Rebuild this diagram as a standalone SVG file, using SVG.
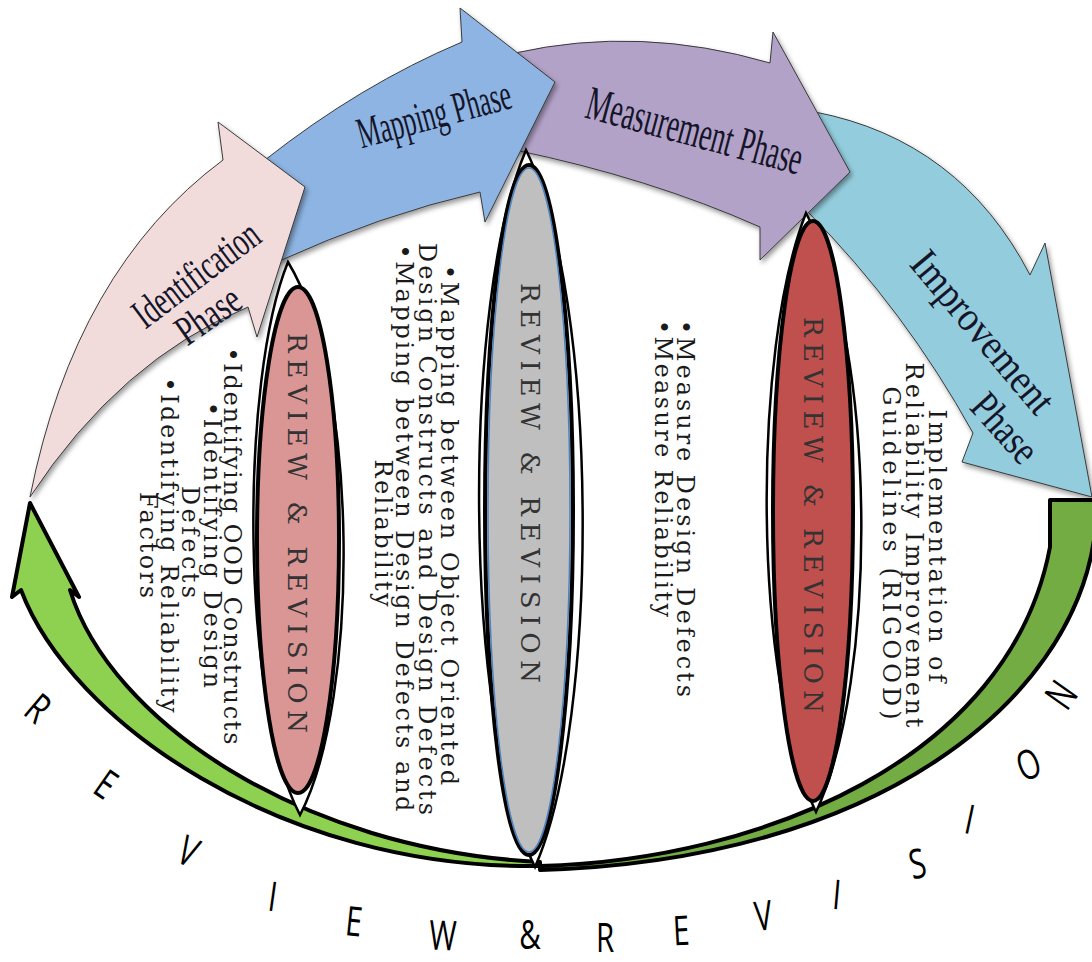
<svg xmlns="http://www.w3.org/2000/svg" width="1092" height="962" viewBox="0 0 1092 962">
<defs>
<filter id="sh" x="-20%" y="-20%" width="140%" height="140%">
<feDropShadow dx="2" dy="3" stdDeviation="2.5" flood-color="#000" flood-opacity="0.4"/>
</filter>
</defs>
<style>
.arrow{stroke:#3a3a3a;stroke-width:1;stroke-linejoin:round;filter:url(#sh)}
.lbl{font-family:"Liberation Serif","Times New Roman",serif;fill:#15152a;text-anchor:middle;dominant-baseline:central}
.body{font-family:"DejaVu Serif","Liberation Serif",serif;font-size:24px;fill:#1a1a1a;text-anchor:middle;dominant-baseline:central}
.bodys{font-family:"DejaVu Serif","Liberation Serif",serif;font-size:24px;fill:#1a1a1a;text-anchor:start;dominant-baseline:central}
.rr{font-family:"DejaVu Serif","Liberation Serif",serif;font-size:26px;fill:#333;text-anchor:middle;dominant-baseline:central}
.lens{fill:#fff;stroke:#000;stroke-width:2.5}
.ell{stroke:#000;stroke-width:4}
.big{font-family:"Open Sans","Liberation Sans",sans-serif;font-size:41px;fill:#000;text-anchor:middle;dominant-baseline:central}
.green{stroke:#000;stroke-width:4;stroke-linejoin:round}
</style>
<rect width="1092" height="962" fill="#fff"/>

<g id="connectors">
  <path id="return-right" class="green" fill="#72AC43" d="M540,866 C760,860 1010,760 1050,547 L1050,500 L1094,500 L1094,540 C1070,700 880,860 540,870 Z"/>
  <path id="return-left" class="green" fill="#8ED04F" d="M540,866 C280,870 70,720 21,590 L12,597 L30,503 L79,597 L70,590 C110,720 300,850 540,862 Z"/>
</g>

<g id="improvement-phase">
  <path class="arrow" fill="#93CDDD" d="M815,112 Q960,140 1030,275 L1045,243 L1092,497 L962,462 L973,433 Q905,310 808,212 Z"/>
  <text class="lbl" font-size="42" textLength="199" lengthAdjust="spacingAndGlyphs" transform="translate(983,332) rotate(50)">Improvement</text>
  <text class="lbl" font-size="42" textLength="79" lengthAdjust="spacingAndGlyphs" transform="translate(1005,428) rotate(48)">Phase</text>
</g>
<g id="measurement-phase">
  <path class="arrow" fill="#B3A2C7" d="M515,53 Q640,25 770,63 L773,32 L850,172 L760,260 L760,227 Q650,178 515,150 Z"/>
  <text class="lbl" font-size="48" textLength="222" lengthAdjust="spacingAndGlyphs" transform="translate(695,130) rotate(15)">Measurement Phase</text>
</g>
<g id="mapping-phase">
  <path class="arrow" fill="#8DB4E2" d="M265,160 Q360,85 462,42 L460,8 L555,82 L485,222 L480,192 Q380,215 277,262 Z"/>
  <text class="lbl" font-size="44" textLength="158" lengthAdjust="spacingAndGlyphs" transform="translate(434,114) rotate(-15)">Mapping Phase</text>
</g>
<g id="identification-phase">
  <path class="arrow" fill="#F2DCDB" d="M30,497 Q75,270 223,160 L218,122 L305,187 L257,337 L248,307 Q120,360 30,497 Z"/>
  <text class="lbl" font-size="42" textLength="148" lengthAdjust="spacingAndGlyphs" transform="translate(196,274) rotate(-37)">Identification</text>
  <text class="lbl" font-size="42" textLength="70" lengthAdjust="spacingAndGlyphs" transform="translate(208,315) rotate(-35)">Phase</text>
</g>

<g id="review-1">
  <path class="lens" d="M288,262 C240,380 240,700 300,815 C360,700 360,380 288,262 Z"/>
  <ellipse class="ell" cx="298" cy="540" rx="41" ry="253" fill="#D99694"/>
  <text class="rr" textLength="400" lengthAdjust="spacing" transform="translate(297,533) rotate(90)">REVIEW &amp; REVISION</text>
</g>
<g id="review-2">
  <path class="lens" d="M526,150 C462,300 462,720 535,867 C600,720 600,300 526,150 Z"/>
  <ellipse class="ell" cx="529" cy="510" rx="44" ry="345" fill="#BFBFBF"/>
  <ellipse cx="529" cy="510" rx="41" ry="342" fill="none" stroke="#4F81BD" stroke-width="1.5"/>
  <text class="rr" textLength="400" lengthAdjust="spacing" transform="translate(530,483) rotate(90)">REVIEW &amp; REVISION</text>
</g>
<g id="review-3">
  <path class="lens" d="M806,213 C752,350 752,680 816,812 C878,680 878,350 806,213 Z"/>
  <ellipse class="ell" cx="813" cy="511" rx="40" ry="290" fill="#C0504D"/>
  <text class="rr" textLength="396" lengthAdjust="spacing" transform="translate(813,515) rotate(90)">REVIEW &amp; REVISION</text>
</g>

<g id="identification-tasks">
  <text class="body" textLength="397" transform="translate(232,546) rotate(90)">•Identifying OOD Constructs</text>
  <text class="body" textLength="286" transform="translate(212,545) rotate(90)">•Identifying Design</text>
  <text class="body" textLength="112" transform="translate(190,542) rotate(90)">Defects</text>
  <text class="body" textLength="335" transform="translate(169,545) rotate(90)">•Identifying Reliability</text>
  <text class="body" textLength="106" transform="translate(148,545) rotate(90)">Factors</text>
</g>
<g id="mapping-tasks">
  <text class="body" textLength="520" transform="translate(449,525) rotate(90)">•Mapping between Object Oriented</text>
  <text class="body" textLength="572" transform="translate(427,529) rotate(90)">Design Constructs  and Design Defects</text>
  <text class="body" textLength="567" transform="translate(404,528) rotate(90)">•Mapping between Design Defects and</text>
  <text class="body" textLength="147" transform="translate(383,533) rotate(90)">Reliability</text>
</g>
<g id="measurement-tasks">
  <text class="bodys" textLength="377" transform="translate(685,320) rotate(90)">•Measure Design Defects</text>
  <text class="bodys" textLength="297" transform="translate(663,320) rotate(90)">•Measure Reliability</text>
</g>
<g id="improvement-tasks">
  <text class="body" textLength="273" transform="translate(937,546) rotate(90)">Implementation of</text>
  <text class="body" textLength="365" transform="translate(914,545) rotate(90)">Reliability Improvement</text>
  <text class="body" textLength="333" transform="translate(891,553) rotate(90)">Guidelines (RIGOOD)</text>
</g>

<g id="review-revision-arc">
  <text class="big" transform="translate(39,707) rotate(40) scale(0.72,1)">R</text>
  <text class="big" transform="translate(107,783) rotate(35) scale(0.72,1)">E</text>
  <text class="big" transform="translate(189,850) rotate(25) scale(0.72,1)">V</text>
  <text class="big" transform="translate(273,895) rotate(8) scale(0.72,1)">I</text>
  <text class="big" transform="translate(354,920) rotate(6) scale(0.72,1)">E</text>
  <text class="big" transform="translate(443,934) rotate(2) scale(0.72,1)">W</text>
  <text class="big" transform="translate(530,933) scale(0.72,1)">&amp;</text>
  <text class="big" transform="translate(605,936) scale(0.72,1)">R</text>
  <text class="big" transform="translate(681,929) rotate(-3) scale(0.72,1)">E</text>
  <text class="big" transform="translate(763,914) rotate(-6) scale(0.72,1)">V</text>
  <text class="big" transform="translate(837,893) rotate(5) scale(0.72,1)">I</text>
  <text class="big" transform="translate(917,862) rotate(-12) scale(0.72,1)">S</text>
  <text class="big" transform="translate(970,818) rotate(12) scale(0.72,1)">I</text>
  <text class="big" transform="translate(1028,763) rotate(-20) scale(0.72,1)">O</text>
  <text class="big" transform="translate(1060,694) rotate(-55) scale(0.72,1)">N</text>
</g>
</svg>
